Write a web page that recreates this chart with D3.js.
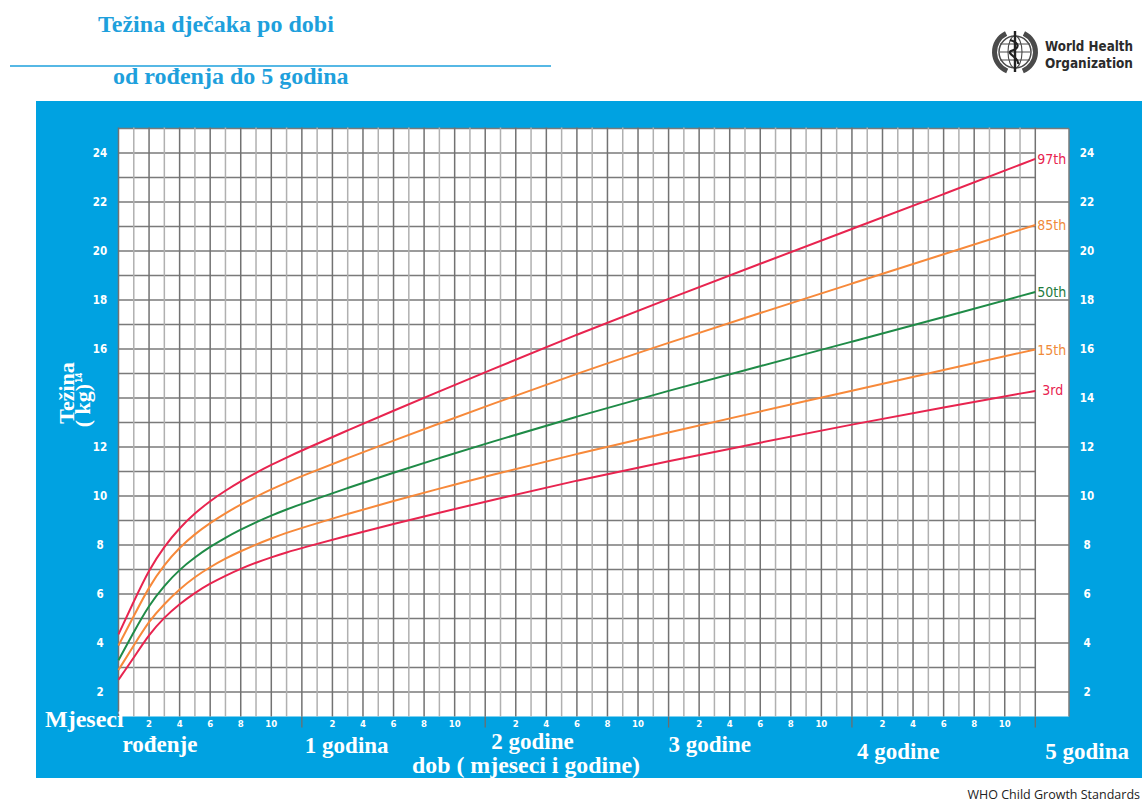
<!DOCTYPE html>
<html>
<head>
<meta charset="utf-8">
<script src="https://cdn.jsdelivr.net/npm/d3@7"></script>
<style>
  body { margin: 0; background: #fff; }
  svg { display: block; }
</style>
</head>
<body>
<div id="chart"></div>
<script>
// age in months and weight (kg) per percentile
const months = [0, 1, 2, 3, 4, 5, 6, 7, 8, 9, 10, 11, 12, 15, 18, 21, 24, 30, 36, 42, 48, 54, 60];
const p3  = [2.5, 3.4, 4.35, 5.05, 5.6, 6.05, 6.43, 6.75, 7.03, 7.28, 7.5, 7.7, 7.88, 8.38, 8.86, 9.32, 9.77, 10.64, 11.42, 12.18, 12.92, 13.62, 14.29];
const p15 = [2.9, 3.9, 4.9, 5.6, 6.2, 6.7, 7.1, 7.45, 7.75, 8.02, 8.27, 8.5, 8.7, 9.27, 9.8, 10.3, 10.8, 11.72, 12.6, 13.45, 14.3, 15.15, 15.98];
const p50 = [3.3, 4.45, 5.55, 6.35, 7.0, 7.5, 7.93, 8.3, 8.63, 8.93, 9.2, 9.45, 9.68, 10.33, 10.95, 11.55, 12.13, 13.25, 14.3, 15.3, 16.3, 17.3, 18.33];
const p85 = [3.9, 5.1, 6.3, 7.2, 7.9, 8.45, 8.9, 9.3, 9.65, 9.97, 10.27, 10.55, 10.81, 11.55, 12.26, 12.96, 13.65, 15.0, 16.26, 17.47, 18.67, 19.87, 21.06];
const p97 = [4.35, 5.7, 7.0, 7.95, 8.7, 9.3, 9.8, 10.22, 10.6, 10.95, 11.27, 11.57, 11.86, 12.68, 13.48, 14.27, 15.05, 16.6, 18.05, 19.48, 20.9, 22.32, 23.76];

const percentileNames = ["97th", "85th", "50th", "15th", "3rd"];
const weightTicks = [2, 4, 6, 8, 10, 12, 14, 16, 18, 20, 22, 24];
const monthTicks = [2, 4, 6, 8, 10];
const yearLabels = ["rođenje", "1 godina", "2 godine", "3 godine", "4 godine", "5 godina"];

window.onload = () => {
  drawChart();
};

function drawChart() {
  const W = 1142, H = 803;
  const blue = "#00a2e1";
  const titleBlue = "#1ea0dc";
  const serif = "'Liberation Serif', 'Times New Roman', serif";
  const narrow = "'DejaVu Sans Condensed', 'DejaVu Sans', sans-serif";

  const svg = d3.select("#chart")
    .append("svg")
    .attr("width", W)
    .attr("height", H);

  // scales
  const x = d3.scaleLinear().domain([0, 60]).range([118.5, 1035.3]);
  const y = d3.scaleLinear().domain([1, 25]).range([716.5, 128.5]);
  const plotRight = 1069;

  // header
  svg.append("text")
    .attr("x", 98).attr("y", 32)
    .attr("font-family", serif).attr("font-weight", "bold")
    .attr("font-size", 24).attr("fill", titleBlue)
    .text("Težina dječaka po dobi");

  svg.append("line")
    .attr("x1", 10).attr("x2", 551)
    .attr("y1", 66).attr("y2", 66)
    .attr("stroke", titleBlue).attr("stroke-width", 1.5);

  svg.append("text")
    .attr("x", 113).attr("y", 84)
    .attr("font-family", serif).attr("font-weight", "bold")
    .attr("font-size", 24).attr("fill", titleBlue)
    .text("od rođenja do 5 godina");

  drawLogo(svg);

  // blue panel
  svg.append("rect")
    .attr("x", 36).attr("y", 101)
    .attr("width", W - 36).attr("height", 677)
    .attr("fill", blue);

  // white chart area
  svg.append("rect")
    .attr("x", x(0)).attr("y", y(25))
    .attr("width", plotRight - x(0)).attr("height", y(1) - y(25))
    .attr("fill", "#fff");

  // grid: horizontal lines each kg
  const kgLines = d3.range(2, 26);
  const lastValues = [p97, p85, p50, p15, p3].map(s => s[s.length - 1]);
  svg.append("g")
    .selectAll("line")
    .data(kgLines)
    .join("line")
    .attr("x1", x(0))
    .attr("x2", d => {
      const nearLabel = lastValues.some(v => Math.abs(v - d) < 0.3);
      return (d % 2 === 0 && !nearLabel) || d === 25 ? plotRight : x(60);
    })
    .attr("y1", d => y(d)).attr("y2", d => y(d))
    .attr("stroke", "#7a7a7a").attr("stroke-width", 1.5);

  // grid: vertical lines each month
  svg.append("g")
    .selectAll("line")
    .data(d3.range(0, 61))
    .join("line")
    .attr("x1", d => x(d)).attr("x2", d => x(d))
    .attr("y1", y(25) - 1).attr("y2", y(1))
    .attr("stroke", d => d % 2 === 0 ? "#727272" : "#b0b0b0")
    .attr("stroke-width", 1.5);

  svg.append("line")
    .attr("x1", plotRight).attr("x2", plotRight)
    .attr("y1", y(25)).attr("y2", y(1))
    .attr("stroke", "#7a7a7a").attr("stroke-width", 1.5);

  // percentile curves
  const series = [
    { name: percentileNames[0], values: p97, color: "#e8244f", text: "#e8244f" },
    { name: percentileNames[1], values: p85, color: "#f7893a", text: "#f08a3a" },
    { name: percentileNames[2], values: p50, color: "#1f8b47", text: "#1e7b3e" },
    { name: percentileNames[3], values: p15, color: "#f7893a", text: "#f08a3a" },
    { name: percentileNames[4], values: p3,  color: "#e8244f", text: "#e8244f" }
  ];

  const line = d3.line()
    .x((d, i) => x(months[i]))
    .y(d => y(d))
    .curve(d3.curveBasis);

  svg.append("g")
    .selectAll("path")
    .data(series)
    .join("path")
    .attr("d", d => line(d.values))
    .attr("fill", "none")
    .attr("stroke", d => d.color)
    .attr("stroke-width", 2);

  svg.append("g")
    .selectAll("text")
    .data(series)
    .join("text")
    .attr("x", d => d.name === "3rd" ? x(60) + 7 : x(60) + 2)
    .attr("y", d => y(d.values[d.values.length - 1]) + (d.name === "3rd" ? -1 : 0))
    .attr("dy", "0.36em")
    .attr("font-family", narrow)
    .attr("font-size", 14)
    .attr("fill", d => d.text)
    .text(d => d.name);

  // weight tick labels, left and right
  svg.append("g")
    .selectAll("text")
    .data(weightTicks.filter(d => d !== 14))
    .join("text")
    .attr("x", 100).attr("y", d => y(d))
    .attr("dy", "0.36em")
    .attr("text-anchor", "middle")
    .attr("font-family", narrow).attr("font-weight", "bold")
    .attr("font-size", 11.5).attr("fill", "#fff")
    .text(d => d);

  svg.append("g")
    .selectAll("text")
    .data(weightTicks)
    .join("text")
    .attr("x", 1087).attr("y", d => y(d))
    .attr("dy", "0.36em")
    .attr("text-anchor", "middle")
    .attr("font-family", narrow).attr("font-weight", "bold")
    .attr("font-size", 11.5).attr("fill", "#fff")
    .text(d => d);

  // y title
  svg.append("text")
    .attr("transform", "translate(74,393) rotate(-90)")
    .attr("text-anchor", "middle")
    .attr("font-family", serif).attr("font-weight", "bold")
    .attr("font-size", 22).attr("fill", "#fff")
    .text("Težina");

  const yUnit = svg.append("text")
    .attr("transform", "translate(90,400) rotate(-90)")
    .attr("text-anchor", "middle")
    .attr("font-family", serif).attr("font-weight", "bold")
    .attr("font-size", 22).attr("fill", "#fff");
  yUnit.append("tspan").text("( kg)");
  yUnit.append("tspan")
    .attr("font-family", narrow).attr("font-size", 8)
    .attr("dy", -8).attr("dx", 1)
    .text(weightTicks[6]);

  // month ticks under each year
  const monthLabelData = [];
  d3.range(0, 5).forEach(yr => {
    monthTicks.forEach(m => monthLabelData.push({ pos: yr * 12 + m, label: m }));
  });

  svg.append("g")
    .selectAll("text")
    .data(monthLabelData)
    .join("text")
    .attr("x", d => x(d.pos)).attr("y", 724)
    .attr("dy", "0.36em")
    .attr("text-anchor", "middle")
    .attr("font-family", narrow).attr("font-weight", "bold")
    .attr("font-size", 9.5).attr("fill", "#fff")
    .text(d => d.label);

  svg.append("g")
    .selectAll("line")
    .data([12, 24, 36, 48, 60])
    .join("line")
    .attr("x1", d => x(d)).attr("x2", d => x(d))
    .attr("y1", y(1)).attr("y2", y(1) + 11)
    .attr("stroke", "#6d6d6d").attr("stroke-width", 1.3);

  svg.append("text")
    .attr("x", 45).attr("y", 727)
    .attr("font-family", serif).attr("font-weight", "bold")
    .attr("font-size", 24).attr("fill", "#fff")
    .text("Mjeseci");

  const yearOffset = [4, 3, 6, 0, 5, 10];
  const yearBase = [752, 753, 749, 752, 759, 759];
  svg.append("g")
    .selectAll("text")
    .data(yearLabels)
    .join("text")
    .attr("x", (d, i) => x(i * 12) + yearOffset[i])
    .attr("y", (d, i) => yearBase[i])
    .attr("font-family", serif).attr("font-weight", "bold")
    .attr("font-size", 23).attr("fill", "#fff")
    .text(d => d);

  svg.append("text")
    .attr("x", 412).attr("y", 773)
    .attr("font-family", serif).attr("font-weight", "bold")
    .attr("font-size", 23).attr("fill", "#fff")
    .attr("textLength", 228).attr("lengthAdjust", "spacingAndGlyphs")
    .text("dob ( mjeseci i godine)");

  svg.append("text")
    .attr("x", 1140).attr("y", 799)
    .attr("text-anchor", "end")
    .attr("font-family", "'Open Sans', 'Noto Sans', sans-serif")
    .attr("font-size", 12.5).attr("fill", "#222")
    .text("WHO Child Growth Standards");
}

function drawLogo(svg) {
  const g = svg.append("g").attr("transform", "translate(1015,52)");
  const gray = "#4a4a4a";

  // laurel wreath
  [-1, 1].forEach(side => {
    g.append("path")
      .attr("d", d3.arc()({ innerRadius: 18, outerRadius: 23,
        startAngle: side * 0.45, endAngle: side * 2.75 }))
      .attr("fill", gray);
  });
  g.append("circle").attr("r", 16).attr("fill", "#fff")
    .attr("stroke", gray).attr("stroke-width", 1.5);
  // globe
  g.append("ellipse").attr("rx", 7).attr("ry", 16)
    .attr("fill", "none").attr("stroke", gray).attr("stroke-width", 1.1);
  [-8, 0, 8].forEach(yy => {
    g.append("line").attr("x1", -15).attr("x2", 15)
      .attr("y1", yy).attr("y2", yy)
      .attr("stroke", gray).attr("stroke-width", 1);
  });
  // staff and serpent
  g.append("line").attr("x1", 0).attr("x2", 0)
    .attr("y1", -21).attr("y2", 20)
    .attr("stroke", "#222").attr("stroke-width", 2.4);
  g.append("path")
    .attr("d", "M-5,-12 C5,-9 5,-4 -4,-1 C-9,2 5,6 3,12")
    .attr("fill", "none").attr("stroke", "#222").attr("stroke-width", 2.2);

  svg.append("text")
    .attr("x", 1045).attr("y", 51)
    .attr("font-family", "'DejaVu Sans Condensed', sans-serif")
    .attr("font-weight", "bold").attr("font-size", 14).attr("fill", "#2b2b2b")
    .attr("textLength", 88).attr("lengthAdjust", "spacingAndGlyphs")
    .text("World Health");
  svg.append("text")
    .attr("x", 1045).attr("y", 68)
    .attr("font-family", "'DejaVu Sans Condensed', sans-serif")
    .attr("font-weight", "bold").attr("font-size", 14).attr("fill", "#2b2b2b")
    .attr("textLength", 88).attr("lengthAdjust", "spacingAndGlyphs")
    .text("Organization");
}
</script>
</body>
</html>
